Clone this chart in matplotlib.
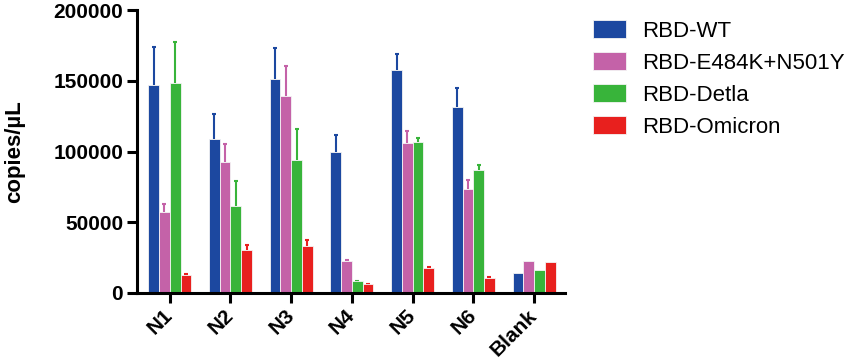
import matplotlib
matplotlib.use('Agg')
import matplotlib.pyplot as plt
import numpy as np

plt.rcParams['font.family'] = ['Liberation Sans', 'DejaVu Sans']

groups = ['N1', 'N2', 'N3', 'N4', 'N5', 'N6', 'Blank']
series = ['RBD-WT', 'RBD-E484K+N501Y', 'RBD-Detla', 'RBD-Omicron']
colors = ['#1c48a0', '#c462a8', '#38b43a', '#e8201e']

wt = [146700, 109000, 151200, 99800, 157300, 131400, 14100]
wt_err = [27100, 17200, 21700, 12200, 11800, 13200, 0]
e484k = [57300, 92900, 139000, 22900, 106200, 73800, 22400]
e484k_err = [5900, 12500, 21400, 400, 8200, 6200, 0]
delta = [148100, 61800, 94300, 8200, 106600, 86800, 16000]
delta_err = [29500, 17200, 21800, 400, 2600, 3800, 0]
omicron = [12500, 30600, 33000, 6400, 17700, 10600, 21700]
omicron_err = [700, 3100, 4700, 200, 600, 400, 0]

values = [wt, e484k, delta, omicron]
errors = [wt_err, e484k_err, delta_err, omicron_err]

fig = plt.figure(figsize=(8.51, 3.6), dpi=100)
ax = fig.add_axes([137 / 851, 1 - 293 / 360, (565 - 137) / 851, (293 - 10) / 360])

x = np.arange(len(groups))
w = 0.177
for i, (vals, errs) in enumerate(zip(values, errors)):
    pos = x + (i - 1.5) * w
    vals = np.asarray(vals)
    errs = np.asarray(errs)
    ax.bar(pos, vals, width=w, color=colors[i], edgecolor='#f4f4f4',
           linewidth=0.6, label=series[i], zorder=2)
    # upper error bars only
    m = errs > 0
    ax.vlines(pos[m], vals[m], vals[m] + errs[m], color=colors[i],
              lw=1.5, zorder=1)
    ax.plot(pos[m], vals[m] + errs[m], ls='none', marker='_', ms=3,
            mew=1.5, color=colors[i], zorder=1)

ax.set_xlim(-0.54, 6.51)
ax.set_ylim(0, 200000)
ax.set_yticks([0, 50000, 100000, 150000, 200000])
ax.set_yticklabels(['0', '50000', '100000', '150000', '200000'],
                   fontsize=15, fontweight='bold')
ax.set_xticks(x)
ax.set_xticklabels(groups, rotation=45, ha='right', va='center',
                   rotation_mode='anchor', fontsize=15, fontweight='bold')
ax.set_ylabel('copies/µL', fontsize=16, fontweight='bold')
ax.yaxis.set_label_coords(-0.262, 0.5)

for s in ['top', 'right']:
    ax.spines[s].set_visible(False)
for s in ['left', 'bottom']:
    ax.spines[s].set_linewidth(2.2)
ax.tick_params(axis='both', direction='out', length=7, width=2.2, pad=3)
ax.tick_params(axis='x', pad=7)

ax.legend(loc='upper left', bbox_to_anchor=(1.045, 0.995), frameon=False,
          fontsize=16, handlelength=1.5, handleheight=0.85,
          labelspacing=0.47, handletextpad=0.7, borderaxespad=0)

fig.savefig('out.png', dpi=100)
